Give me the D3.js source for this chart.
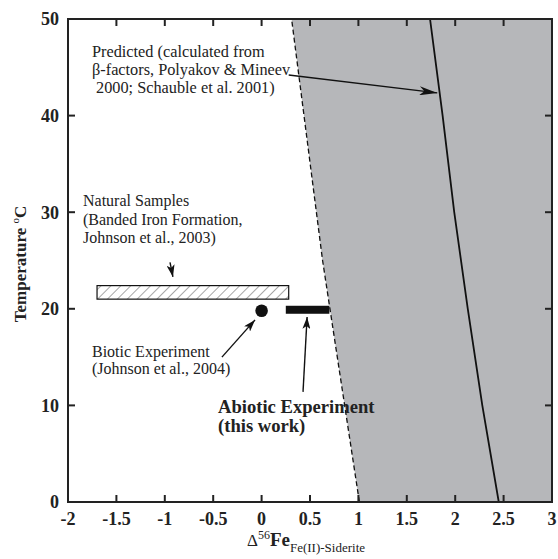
<!DOCTYPE html>
<html>
<head>
<meta charset="utf-8">
<script src="https://cdn.jsdelivr.net/npm/d3@7"></script>
<style>
  body { margin: 0; background: #fff; }
  #chart text { font-family: "Liberation Serif", "Times New Roman", Times, serif; }
</style>
</head>
<body>
<svg id="chart" width="558" height="559"></svg>
<script>
// axis ticks
const xTicks = [-2, -1.5, -1, -0.5, 0, 0.5, 1, 1.5, 2, 2.5, 3];
const xTickLabels = ["-2", "-1.5", "-1", "-0.5", "0", "0.5", "1", "1.5", "2", "2.5", "3"];
const yTicks = [0, 10, 20, 30, 40, 50];

// lower boundary of the shaded field (dashed)
const boundaryT = [0, 25, 50];
const boundaryD = [1.01, 0.63, 0.31];

// predicted fractionation (solid)
const predT = [0, 10, 20, 30, 40, 50];
const predD = [2.45, 2.28, 2.13, 1.99, 1.87, 1.74];

// natural samples range (hatched box)
const naturalRange = [-1.7, 0.28];
const naturalT = [21.0, 22.4];

// biotic experiment (dot)
const bioticD = 0.0;
const bioticT = 19.8;

// abiotic experiment (black bar)
const abioticRange = [0.25, 0.70];
const abioticT = 19.9;

const width = 558, height = 559;
const margin = {left: 68, right: 6, top: 19, bottom: 57};

const x = d3.scaleLinear().domain([-2, 3]).range([margin.left, width - margin.right]);
const y = d3.scaleLinear().domain([0, 50]).range([height - margin.bottom, margin.top]);

const svg = d3.select("#chart");
const defs = svg.append("defs");

defs.append("clipPath").attr("id", "plotclip")
    .append("rect")
    .attr("x", x(-2)).attr("y", y(50))
    .attr("width", x(3) - x(-2)).attr("height", y(0) - y(50));

const pat = defs.append("pattern")
    .attr("id", "hatch")
    .attr("patternUnits", "userSpaceOnUse")
    .attr("width", 7).attr("height", 7)
    .attr("patternTransform", "rotate(45)");
pat.append("rect").attr("width", 7).attr("height", 7).attr("fill", "#fff");
pat.append("line").attr("x1", 0).attr("y1", 0).attr("x2", 0).attr("y2", 7)
    .attr("stroke", "#222").attr("stroke-width", 0.8);

// arrowheads
defs.append("marker")
    .attr("id", "head")
    .attr("viewBox", "0 0 12 8")
    .attr("refX", 12).attr("refY", 4)
    .attr("markerWidth", 12).attr("markerHeight", 8)
    .attr("markerUnits", "userSpaceOnUse")
    .attr("orient", "auto")
    .append("path").attr("d", "M0,0 L12,4 L0,8 L3,4 Z").attr("fill", "#111");

defs.append("marker")
    .attr("id", "headlong")
    .attr("viewBox", "0 0 18 9")
    .attr("refX", 18).attr("refY", 4.5)
    .attr("markerWidth", 18).attr("markerHeight", 9)
    .attr("markerUnits", "userSpaceOnUse")
    .attr("orient", "auto")
    .append("path").attr("d", "M0,0 L18,4.5 L0,9 L5,4.5 Z").attr("fill", "#111");

const plot = svg.append("g").attr("clip-path", "url(#plotclip)");

// shaded field
const field = boundaryT.map((t, i) => [boundaryD[i], t]);
field.push([3, 50], [3, 0]);
plot.append("path")
    .attr("d", "M" + field.map(p => [x(p[0]), y(p[1])].join(",")).join("L") + "Z")
    .attr("fill", "#b6b7ba");

const line = d3.line().x(d => x(d[0])).y(d => y(d[1]));

plot.append("path")
    .attr("d", line(boundaryT.map((t, i) => [boundaryD[i], t])))
    .attr("fill", "none")
    .attr("stroke", "#111")
    .attr("stroke-width", 1.3)
    .attr("stroke-dasharray", "5,3");

plot.append("path")
    .attr("d", line(predT.map((t, i) => [predD[i], t])))
    .attr("fill", "none")
    .attr("stroke", "#111")
    .attr("stroke-width", 1.8);

// hatched box
plot.append("rect")
    .attr("x", x(naturalRange[0]))
    .attr("y", y(naturalT[1]))
    .attr("width", x(naturalRange[1]) - x(naturalRange[0]))
    .attr("height", y(naturalT[0]) - y(naturalT[1]))
    .attr("fill", "url(#hatch)")
    .attr("stroke", "#111")
    .attr("stroke-width", 1.2);

// biotic dot
plot.append("circle")
    .attr("cx", x(bioticD)).attr("cy", y(bioticT))
    .attr("r", 6.3).attr("fill", "#111");

// abiotic bar
plot.append("rect")
    .attr("x", x(abioticRange[0]))
    .attr("y", y(abioticT) - 4)
    .attr("width", x(abioticRange[1]) - x(abioticRange[0]))
    .attr("height", 8)
    .attr("fill", "#111");

// frame and inward ticks
svg.append("rect")
    .attr("x", x(-2)).attr("y", y(50))
    .attr("width", x(3) - x(-2)).attr("height", y(0) - y(50))
    .attr("fill", "none").attr("stroke", "#222").attr("stroke-width", 2);

const tl = 7;
const ticks = svg.append("g").attr("stroke", "#222").attr("stroke-width", 2);
xTicks.slice(1, -1).forEach(v => {
    ticks.append("line").attr("x1", x(v)).attr("x2", x(v)).attr("y1", y(0)).attr("y2", y(0) - tl);
    ticks.append("line").attr("x1", x(v)).attr("x2", x(v)).attr("y1", y(50)).attr("y2", y(50) + tl);
});
yTicks.slice(1, -1).forEach(v => {
    ticks.append("line").attr("x1", x(-2)).attr("x2", x(-2) + tl).attr("y1", y(v)).attr("y2", y(v));
    ticks.append("line").attr("x1", x(3)).attr("x2", x(3) - tl).attr("y1", y(v)).attr("y2", y(v));
});

// tick labels
svg.append("g").selectAll("text")
    .data(xTicks)
    .join("text")
    .attr("x", d => x(d))
    .attr("y", y(0) + 23)
    .attr("text-anchor", "middle")
    .attr("font-size", 18)
    .attr("font-weight", "bold")
    .attr("fill", "#222")
    .text((d, i) => xTickLabels[i]);

svg.append("g").selectAll("text")
    .data(yTicks)
    .join("text")
    .attr("x", x(-2) - 9)
    .attr("y", d => y(d))
    .attr("dy", "0.35em")
    .attr("text-anchor", "end")
    .attr("font-size", 18)
    .attr("font-weight", "bold")
    .attr("fill", "#222")
    .text(d => d);

// axis titles
const xt = svg.append("text")
    .attr("x", 306).attr("y", 546)
    .attr("text-anchor", "middle")
    .attr("fill", "#222");
xt.append("tspan").attr("font-size", 17).text("Δ");
xt.append("tspan").attr("font-size", 12).attr("dy", -7).text("56");
xt.append("tspan").attr("font-size", 19).attr("font-weight", "bold").attr("dy", 7).text("Fe");
xt.append("tspan").attr("font-size", 13).attr("dy", 6).text("Fe(II)-Siderite");

const yt = svg.append("text")
    .attr("transform", `translate(26,${264}) rotate(-90)`)
    .attr("text-anchor", "middle")
    .attr("font-size", 17)
    .attr("font-weight", "bold")
    .attr("fill", "#222");
yt.append("tspan").text("Temperature ");
yt.append("tspan").attr("font-size", 11).attr("font-weight", "normal").attr("dy", -7).text("o");
yt.append("tspan").attr("dy", 7).text("C");

// annotations
function block(px, py, lines, size, weight, gap) {
    const t = svg.append("text")
        .attr("font-size", size)
        .attr("font-weight", weight)
        .attr("fill", "#222");
    lines.forEach((s, i) => {
        t.append("tspan").attr("x", px + (s.indent || 0)).attr("y", py + i * gap).text(s.text);
    });
}

block(92, 57, [
    {text: "Predicted (calculated from"},
    {text: "β-factors, Polyakov & Mineev"},
    {text: "2000; Schauble et al. 2001)", indent: 4}
], 16.3, "normal", 18);

block(83, 206, [
    {text: "Natural Samples"},
    {text: "(Banded Iron Formation,"},
    {text: "Johnson et al., 2003)"}
], 16, "normal", 18.5);

block(92, 357, [
    {text: "Biotic Experiment"},
    {text: "(Johnson et al., 2004)"}
], 16, "normal", 16.5);

block(218, 413, [
    {text: "Abiotic Experiment"},
    {text: "(this work)"}
], 18.6, "bold", 19);

const arrows = [
    {from: [-0.946, 24.8], to: [-0.916, 23.3], head: "head"},
    {from: [-0.41, 15.0], to: [-0.068, 18.85], head: "head"},
    {from: [0.428, 11.4], to: [0.47, 19.15], head: "head"},
    {from: [0.28, 44.2], to: [1.815, 42.35], head: "headlong"}
];

svg.append("g").selectAll("line")
    .data(arrows)
    .join("line")
    .attr("x1", d => x(d.from[0])).attr("y1", d => y(d.from[1]))
    .attr("x2", d => x(d.to[0])).attr("y2", d => y(d.to[1]))
    .attr("stroke", "#111")
    .attr("stroke-width", 1.4)
    .attr("marker-end", d => `url(#${d.head})`);
</script>
</body>
</html>
